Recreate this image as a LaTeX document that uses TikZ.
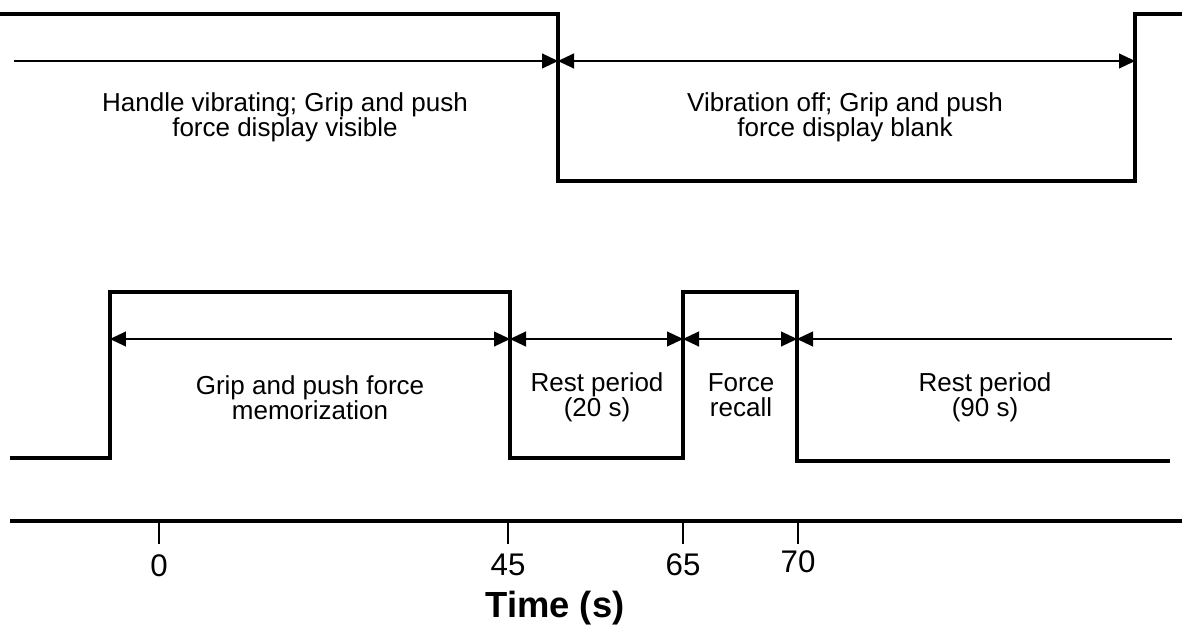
\documentclass[tikz,border=0pt]{standalone}
\usepackage{fontspec}
\setmainfont{Liberation Sans}
\usetikzlibrary{arrows.meta}

\tikzset{
  signal/.style={line width=2.3pt},
  span/.style={line width=0.6pt},
  phasetext/.style={align=center, inner sep=0pt, font=\fontsize{14.8}{14.4}\selectfont},
  ticknum/.style={inner sep=0pt, font=\fontsize{17.8}{20}\selectfont}
}

\begin{document}
\begin{tikzpicture}[x=0.02cm, y=-0.02cm, >={Triangle[length=0.32cm,width=0.3cm]}]
    \useasboundingbox (0,0) rectangle (1182,631);

    % Top trace: vibration and display
    \draw[signal] (0,14) -| (558,181) -| (1135,14) -- (1182,14);
    % Bottom trace: grip and push force
    \draw[signal] (10,458) -| (110,292) -| (510,458) -| (683,292) -| (797,461) -- (1170,461);

    % Period ends
    \coordinate (a0) at (14,61);
    \coordinate (a1) at (558,61);
    \coordinate (a2) at (1135,61);
    \coordinate (b1) at (110,339);
    \coordinate (b2) at (510,339);
    \coordinate (b3) at (683,339);
    \coordinate (b4) at (797,339);
    \coordinate (b5) at (1172,339);

    % Period arrows
    \draw[span,->] (a0) -- (a1);
    \draw[span,<->] (a1) -- (a2);
    \draw[span,<->] (b1) -- (b2);
    \draw[span,<->] (b2) -- (b3);
    \draw[span,<->] (b3) -- (b4);
    \draw[span,<-] (b4) -- (b5);

    % Period texts
    \node[phasetext] (vib) at (285,117) {Handle vibrating; Grip and push\\force display visible};
    \node[phasetext] (off) at (845,117) {Vibration off; Grip and push\\force display blank};
    \node[phasetext] (mem) at (310,398) {Grip and push force\\memorization};
    \node[phasetext] (rest1) at (597,397) {Rest period\\(20 s)};
    \node[phasetext] (recall) at (741,395) {Force\\recall};
    \node[phasetext] (rest2) at (985,397) {Rest period\\(90 s)};

    % Time axis
    \draw[line width=2.8pt] (10,521) -- (1182,521);
    \foreach \x/\t/\y in {159/0/566, 508/45/565, 683/65/565, 798/70/562} {
        \draw[line width=0.85pt] (\x,521) -- (\x,544);
        \node[ticknum] (n\t) at (\x,\y) {\t};
    }
    \node[font=\bfseries\fontsize{20.7}{24}\selectfont] (xlabel) at (555,608) {Time (s)};
\end{tikzpicture}
\end{document}
